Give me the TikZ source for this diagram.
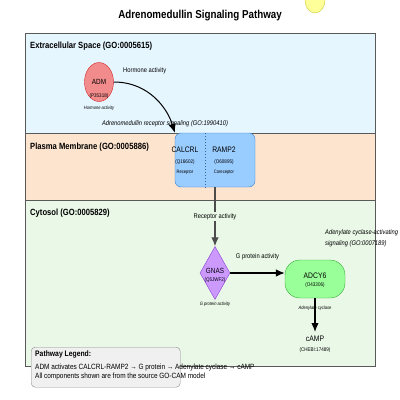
\documentclass[tikz,border=0pt]{standalone}
\usepackage{fontspec}
\setmainfont{Liberation Sans}[FakeStretch=0.85]
\usepackage{tikz}
\usetikzlibrary{arrows.meta,shapes}

\definecolor{extrafill}{HTML}{E6F6FF}
\definecolor{membfill}{HTML}{FDE4CE}
\definecolor{cytofill}{HTML}{E9F8E7}
\definecolor{admfill}{HTML}{F28B8B}
\definecolor{admline}{HTML}{D42A2A}
\definecolor{recfill}{HTML}{99CCFF}
\definecolor{recline}{HTML}{3A7FD5}
\definecolor{gnasfill}{HTML}{CC99FF}
\definecolor{gnasline}{HTML}{8A3FD0}
\definecolor{adcyfill}{HTML}{99FF99}
\definecolor{adcyline}{HTML}{3AAA3A}
\definecolor{legfill}{HTML}{F0F0F0}
\definecolor{sunfill}{HTML}{FFFF99}
\definecolor{sunline}{HTML}{C8C832}

\newcommand{\fsz}[1]{\fontsize{#1}{#1}\selectfont}

\begin{document}
\begin{tikzpicture}[x=1pt,y=-1pt,>={Latex[length=9pt,width=7.5pt]},
compartment/.style={draw=black!65, line width=0.7pt, anchor=north west,
minimum width=350pt, inner sep=0pt},
complabel/.style={anchor=west, font=\fsz{9}\bfseries, inner sep=0pt},
gene/.style={font=\fsz{8}, inner sep=0pt},
accession/.style={font=\fsz{5.3}, inner sep=0pt},
role/.style={font=\fsz{4.8}, inner sep=0pt},
actlabel/.style={font=\fsz{6.8}, inner sep=0pt}]
\useasboundingbox (0,0) rectangle (400,400);

\node (sun) [ellipse, draw=sunline, fill=sunfill, minimum width=20pt,
minimum height=26pt] at (315,0) {};
\node (title) at (200,16) {\fsz{11.5}\bfseries Adrenomedullin Signaling Pathway};

% compartments
\node (extra) [compartment, fill=extrafill, minimum height=100pt] at (25,33) {};
\node (memb) [compartment, fill=membfill, minimum height=67pt] at (25,133) {};
\node (cyto) [compartment, fill=cytofill, minimum height=166pt] at (25,200) {};
\node (extralbl) [complabel] at (30,46) {Extracellular Space (GO:0005615)};
\node (memblbl) [complabel] at (30,147) {Plasma Membrane (GO:0005886)};
\node (cytolbl) [complabel] at (30,213) {Cytosol (GO:0005829)};

% ADM
\node (adm) [ellipse, draw=admline, fill=admfill, minimum width=29pt,
minimum height=39pt, gene, font=\fsz{7.5}] at (99,82) {ADM};
\node (admacc) [accession, node distance=14pt, below of=adm] {(P35318)};
\node (admrole) [role, font=\fsz{4.8}\itshape, node distance=26pt, below of=adm]
{Hormone activity};
\node (hormone) [actlabel, anchor=west] at (123,71) {Hormone activity};

% receptor complex
\node (receptor) [draw=recline, fill=recfill, rounded corners=6pt,
minimum width=80pt, minimum height=54pt] at (215,160) {};
\coordinate (split) at (205,133);
\draw[dotted, line width=1pt, recline!80!black] (split) -- (split |- receptor.south);
\node (calcrl) [gene] at (185,150) {CALCRL};
\node (calcrlacc) [accession, node distance=12pt, below of=calcrl] {(Q16602)};
\node (calcrlrole) [role, node distance=22pt, below of=calcrl] {Receptor};
\node (ramp) [gene] at (224,150) {RAMP2};
\node (rampacc) [accession, node distance=12pt, below of=ramp] {(O60895)};
\node (ramprole) [role, node distance=22pt, below of=ramp] {Coreceptor};

\node (admsig) [actlabel, font=\fsz{6.8}\itshape] at (165,124)
{Adrenomedullin receptor signaling (GO:1990410)};
\draw[->, line width=1pt] (adm.east) .. controls (150,82) and (168,110) ..
(receptor.north west);

% GNAS
\node (gnas) [diamond, draw=gnasline, fill=gnasfill, minimum width=30pt,
minimum height=53pt, inner sep=0pt] at (215,273) {};
\node (gnasname) [gene, font=\fsz{7.5}] at (215,271) {GNAS};
\node (gnasacc) [accession, node distance=9pt, below of=gnasname] {(Q5JWF2)};
\node (gnasrole) [role, font=\fsz{4.8}\itshape] at (215,304) {G protein activity};
\draw[->, line width=1.2pt, black!70] (receptor.south) -- (gnas.north)
node [midway, actlabel, fill=cytofill, inner sep=1.5pt, text=black] {Receptor activity};

% ADCY6
\node (adcy) [draw=adcyline, fill=adcyfill, rounded corners=15pt,
minimum width=60pt, minimum height=38pt] at (315,279) {};
\node (adcyname) [gene] at (315,276) {ADCY6};
\node (adcyacc) [accession, node distance=9pt, below of=adcyname] {(O43306)};
\node (adcyrole) [role, font=\fsz{4.8}\itshape] at (315,308) {Adenylate cyclase};
\draw[->, line width=1.2pt] (gnas.east) -- (gnas.east -| adcy.west)
node [midway, actlabel, yshift=16pt] {G protein activity};
\node (acsig) [actlabel, font=\fsz{6.8}\itshape, anchor=west, align=left]
at (325,238.5) {Adenylate cyclase-activating\\[4pt]signaling (GO:0007189)};

% cAMP
\node (camp) [gene] at (315,339) {cAMP};
\node (campacc) [accession, node distance=11pt, below of=camp] {(CHEBI:17489)};
\draw[->, line width=1.3pt, shorten >=7pt] (adcy.south) -- (camp.center);

% legend
\node (legend) [draw=black!45, fill=legfill, rounded corners=4pt, anchor=north west,
minimum width=149pt, minimum height=40pt] at (31,347) {};
\node (leghead) [anchor=west, inner sep=0pt, font=\fsz{8}\bfseries] at (35,354)
{Pathway Legend:};
\node (legone) [anchor=west, inner sep=0pt, font=\fsz{7.6}] at (35,368)
{ADM activates CALCRL-RAMP2 → G protein → Adenylate cyclase → cAMP};
\node (legtwo) [anchor=west, inner sep=0pt, font=\fsz{7.6}] at (35,377)
{All components shown are from the source GO-CAM model};
\end{tikzpicture}
\end{document}
